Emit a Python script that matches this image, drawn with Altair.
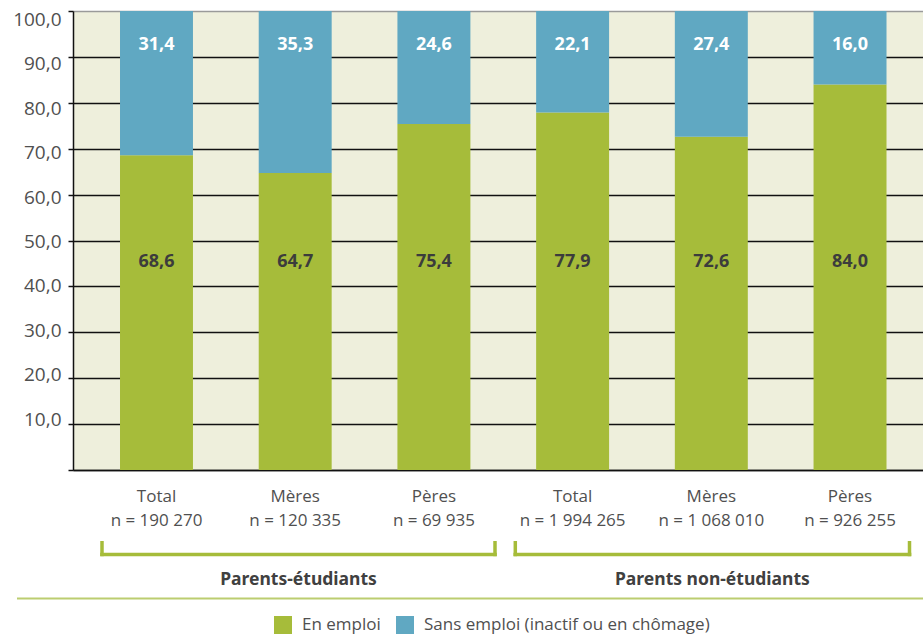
import altair as alt
import pandas as pd

# ---- data ----
categories = ["Total", "Mères", "Pères", "Total", "Mères", "Pères"]
counts = ["n = 190 270", "n = 120 335", "n = 69 935",
          "n = 1 994 265", "n = 1 068 010", "n = 926 255"]
groups = ["Parents-étudiants"] * 3 + ["Parents non-étudiants"] * 3
en_emploi = [68.6, 64.7, 75.4, 77.9, 72.6, 84.0]
sans_emploi = [31.4, 35.3, 24.6, 22.1, 27.4, 16.0]
series = ["En emploi", "Sans emploi (inactif ou en chômage)"]
group_labels = ["Parents-étudiants", "Parents non-étudiants"]
y_ticks = [0, 10, 20, 30, 40, 50, 60, 70, 80, 90, 100]

GREEN = "#a6bc3a"
BLUE = "#60a8c2"
BG = "#eeefdc"
TXT = "#505050"
FONT = "Open Sans"

keys = [f"{c}|{n}" for c, n in zip(categories, counts)]
rows = []
for k, g, e, s in zip(keys, groups, en_emploi, sans_emploi):
    rows.append({"key": k, "group": g, "series": series[0], "value": e, "ord": 0})
    rows.append({"key": k, "group": g, "series": series[1], "value": s, "ord": 1})
df = pd.DataFrame(rows)

W, H = 850, 459

xscale = alt.Scale(domain=keys, paddingInner=0.474, paddingOuter=0.301, align=0.563)
yscale = alt.Scale(domain=[0, 100], nice=False)

x_enc = alt.X(
    "key:N", scale=xscale, sort=keys, title=None,
    axis=alt.Axis(
        labelExpr="split(datum.label, '|')", labelAngle=0, ticks=False,
        labelFont=FONT, labelFontSize=17, labelColor=TXT,
        labelBaseline="alphabetic", labelPadding=31.5, labelLineHeight=24,
        labelLimit=300, labelOverlap=False,
        domainColor="#111111", domainWidth=1.5,
    ),
)

y_axis = alt.Axis(
    values=y_ticks, title=None,
    labelExpr="datum.value == 0 ? '' : replace(format(datum.value, '.1f'), '.', ',')",
    labelFont=FONT, labelFontSize=19, labelColor=TXT, labelPadding=7,
    labelBaseline="middle",
    labelOffset={"condition": {"test": "datum.value >= 0", "expr": "0.146*datum.value - 6.3"}, "value": 0},
    tickSize=5, tickColor="#111111", tickWidth=1.5,
    domainColor="#111111", domainWidth=1.5,
    grid=True, gridColor={"condition": {"test": "datum.value == 100", "value": "#9a9a9a"}, "value": "#111111"},
    gridWidth=1.5,
)

base = alt.Chart(df)

bars = base.mark_bar().encode(
    x=x_enc,
    y=alt.Y("value:Q", stack="zero", scale=yscale, axis=y_axis),
    color=alt.Color(
        "series:N",
        scale=alt.Scale(domain=series, range=[GREEN, BLUE]),
        legend=alt.Legend(
            title=None, orient="none", legendX=201, legendY=605, direction="horizontal",
            symbolType="square", symbolSize=324, symbolStrokeWidth=0, symbolOpacity=1,
            labelFont=FONT, labelFontSize=17, labelColor=TXT, labelOffset=10,
            columnPadding=15, padding=0, labelLimit=400,
        ),
    ),
    order=alt.Order("ord:Q"),
)

lab_fmt = "replace(format(datum.value, '.1f'), '.', ',')"

green_labels = base.transform_filter(alt.datum.ord == 0).transform_calculate(
    lab=lab_fmt
).mark_text(font="Noto Sans", fontSize=18, fontWeight="bold", color="#3c3c3c",
            baseline="alphabetic").encode(
    x=alt.X("key:N", scale=xscale, sort=keys),
    y=alt.datum(44.3),
    text="lab:N",
)

blue_labels = base.transform_filter(alt.datum.ord == 1).transform_calculate(
    lab=lab_fmt
).mark_text(font="Noto Sans", fontSize=18, fontWeight="bold", color="white",
            baseline="alphabetic").encode(
    x=alt.X("key:N", scale=xscale, sort=keys),
    y=alt.datum(91.5),
    text="lab:N",
)

# ---- decorations below the plot (pixel offsets from the plot origin) ----
one = alt.Data(values=[{"k": 0}])

def hrule(x1, x2, y, color, w):
    return alt.Chart(one).mark_rule(color=color, strokeWidth=w).encode(
        x=alt.value(x1), x2=alt.value(x2), y=alt.value(y))

def vrule(x, y1, y2, color, w):
    return alt.Chart(one).mark_rule(color=color, strokeWidth=w).encode(
        x=alt.value(x), y=alt.value(y1), y2=alt.value(y2))

BR = "#a6bc3a"
bw = 3.5
brackets = [
    hrule(27.2, 423.8, 543.5, BR, bw), vrule(29, 530, 545.2, BR, bw), vrule(422, 530, 545.2, BR, bw),
    hrule(440.5, 838.3, 543.5, BR, bw), vrule(442.3, 530, 545.2, BR, bw), vrule(836.5, 530, 545.2, BR, bw),
]

sep = hrule(-56, 850, 587.5, "#bccd70", 2)

glabels = []
for gl, cx in zip(group_labels, [225.5, 639.4]):
    glabels.append(
        alt.Chart(alt.Data(values=[{"label": gl}])).mark_text(
            font="Noto Sans", fontSize=17.5, fontWeight="bold",
            color="#404040", baseline="alphabetic", align="center").encode(
            x=alt.value(cx), y=alt.value(574), text="label:N")
    )

chart = alt.layer(bars, green_labels, blue_labels, *brackets, sep, *glabels).properties(
    width=W, height=H,
    autosize=alt.AutoSizeParams(type="none"),
    padding={"left": 73, "top": 11, "right": 0, "bottom": 169},
    background="white",
).configure_view(stroke=None, fill=BG)

chart.save("out.html", embed_options={"renderer": "svg", "actions": False})
